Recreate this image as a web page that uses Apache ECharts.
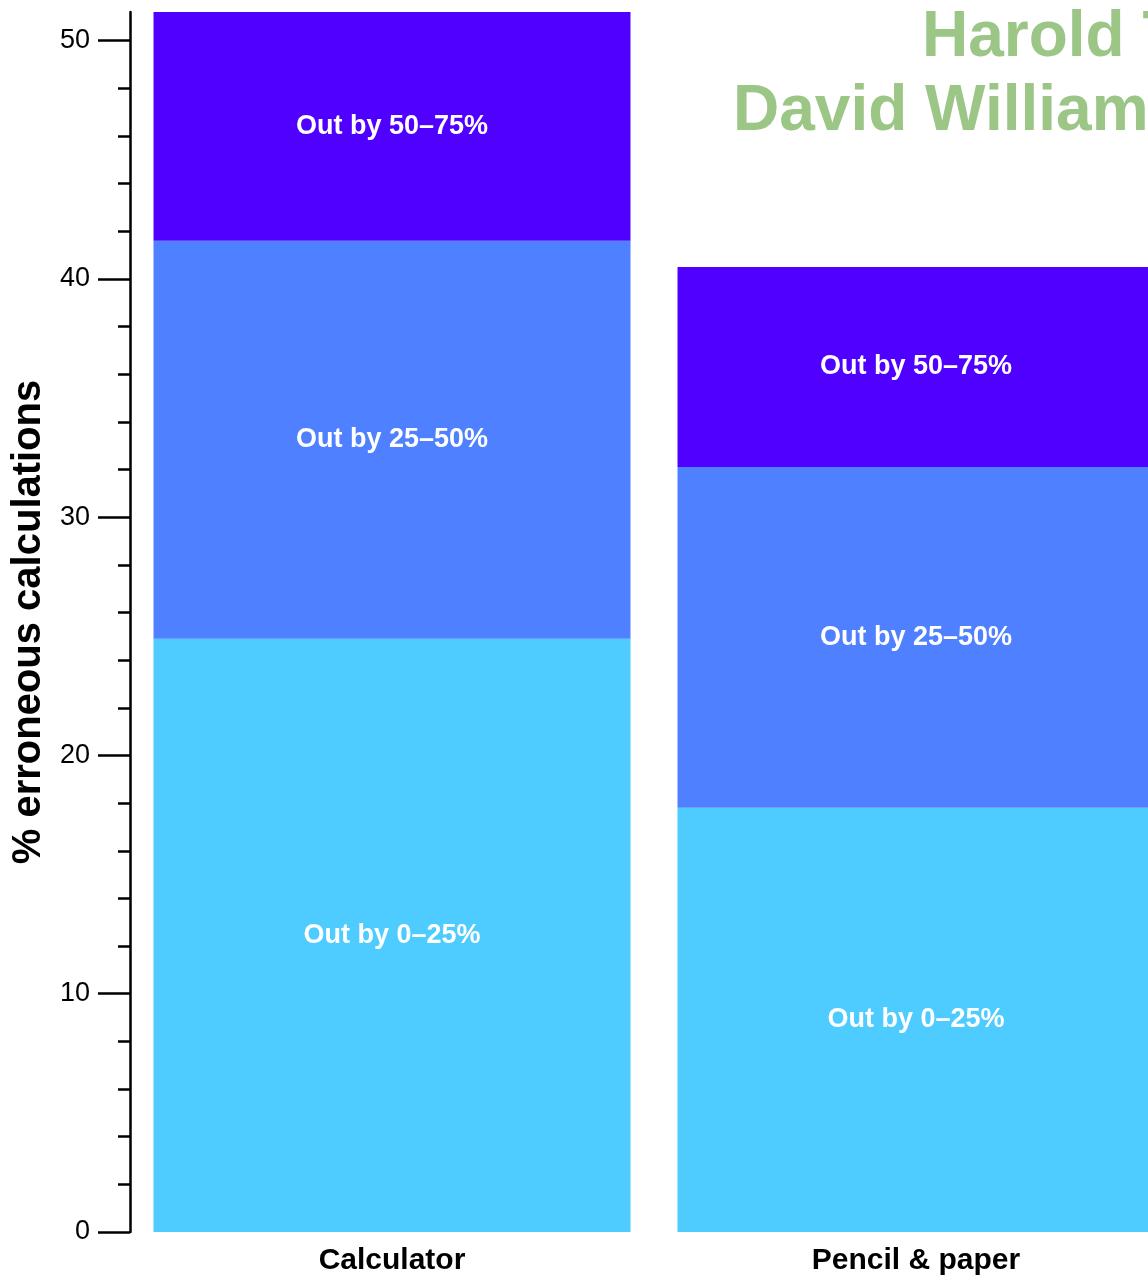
<!DOCTYPE html>
<html>
<head>
<meta charset="utf-8">
<script src="https://cdn.jsdelivr.net/npm/echarts@6/dist/echarts.min.js"></script>
<style>
html,body{margin:0;padding:0;background:#fff;overflow:hidden}
#chart{width:1148px;height:1280px}
</style>
</head>
<body>
<div id="chart"></div>
<script>
const categories = ['Calculator', 'Pencil & paper'];
const seriesNames = ['Out by 0–25%', 'Out by 25–50%', 'Out by 50–75%'];
const out0to25 = [24.9, 17.8];
const out25to50 = [16.7, 14.3];
const out50to75 = [9.6, 8.4];
const yTicks = [0, 10, 20, 30, 40, 50];
const yMinorTicks = [2, 4, 6, 8, 12, 14, 16, 18, 22, 24, 26, 28, 32, 34, 36, 38, 42, 44, 46, 48];
const authors = ['Harold Thimbleby', 'David Williams'];

const colors = ['#4fccff', '#4f80ff', '#5000ff'];
const FONT = '"Liberation Sans", Arial, Helvetica, sans-serif';
const chart = echarts.init(document.getElementById('chart'));
const seriesData = [out0to25, out25to50, out50to75];

chart.setOption({
  animation: false,
  backgroundColor: '#ffffff',
  grid: { left: 130, right: -30, top: 12, bottom: 48, containLabel: false, outerBoundsMode: 'none' },
  xAxis: {
    type: 'category',
    data: categories,
    axisLine: { show: false },
    axisTick: { show: false },
    axisLabel: { color: '#000', fontFamily: FONT, fontWeight: 'bold', fontSize: 30, margin: 14 }
  },
  yAxis: [{
    type: 'value',
    min: 0,
    max: 51.2,
    interval: 10,
    name: '% erroneous calculations',
    nameLocation: 'middle',
    nameGap: 80,
    nameTextStyle: { color: '#000', fontFamily: FONT, fontWeight: 'bold', fontSize: 40 },
    axisLine: { show: true, lineStyle: { color: '#000', width: 2.5 } },
    axisTick: { show: true, length: 32, customValues: yTicks, lineStyle: { color: '#000', width: 2.5 } },
    splitLine: { show: false },
    axisLabel: { color: '#000', fontFamily: FONT, fontSize: 27, margin: 40, customValues: yTicks }
  }, {
    type: 'value',
    min: 0,
    max: 51.2,
    position: 'left',
    offset: 0,
    axisLine: { show: false },
    axisTick: { show: true, length: 12, customValues: yMinorTicks, lineStyle: { color: '#000', width: 2.5 } },
    axisLabel: { show: false },
    splitLine: { show: false }
  }],
  series: seriesNames.map((name, i) => ({
    name: name,
    type: 'bar',
    stack: 'total',
    barWidth: 477,
    data: seriesData[i],
    itemStyle: { color: colors[i] },
    label: {
      show: true,
      position: 'inside',
      formatter: name,
      color: '#fff',
      fontFamily: FONT,
      fontWeight: 'bold',
      fontSize: 27
    }
  })),
  graphic: [
    { type: 'text', left: 922, top: 6, style: { text: authors[0], fill: '#9bc686', font: 'bold 64px ' + FONT } },
    { type: 'text', left: 733, top: 80, style: { text: authors[1], fill: '#9bc686', font: 'bold 64px ' + FONT } }
  ]
});
</script>
</body>
</html>
